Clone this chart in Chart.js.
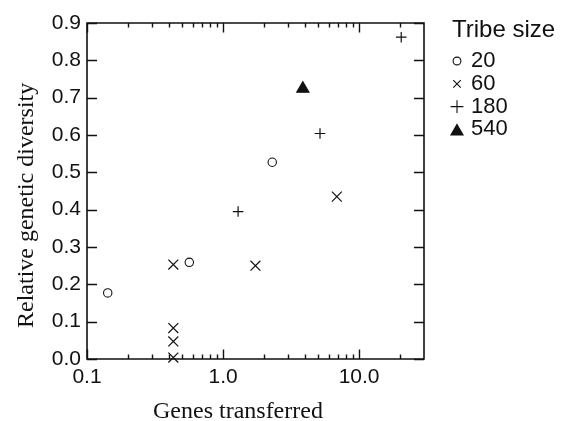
<!DOCTYPE html>
<html>
<head>
<meta charset="utf-8">
<script src="https://cdn.jsdelivr.net/npm/chart.js@4/dist/chart.umd.min.js"></script>
<style>
  html, body { margin: 0; padding: 0; background: #fff; }
  #wrap { width: 565px; height: 421px; }
</style>
</head>
<body>
<div id="wrap"><canvas id="c" width="565" height="421"></canvas></div>
<script>
// ---- data ----
const seriesLabels = ['20', '60', '180', '540'];
const tribe20 = [
  { x: 0.142, y: 0.177 },
  { x: 0.565, y: 0.259 },
  { x: 2.30, y: 0.527 }
];
const tribe60 = [
  { x: 0.431, y: 0.253 },
  { x: 0.431, y: 0.083 },
  { x: 0.431, y: 0.047 },
  { x: 0.431, y: 0.004 },
  { x: 1.73, y: 0.250 },
  { x: 6.86, y: 0.435 }
];
const tribe180 = [
  { x: 1.29, y: 0.395 },
  { x: 5.16, y: 0.604 },
  { x: 20.4, y: 0.862 }
];
const tribe540 = [
  { x: 3.86, y: 0.724 }
];
const xTickLabels = [0.1, 1, 10];
const xMinorTicks = [0.2, 0.3, 0.4, 0.5, 0.6, 0.7, 0.8, 0.9, 2, 3, 4, 5, 6, 7, 8, 9, 20];
const yTickValues = [0, 0.1, 0.2, 0.3, 0.4, 0.5, 0.6, 0.7, 0.8, 0.9];
const legendTitle = 'Tribe size';
const xTitle = 'Genes transferred';
const yTitle = 'Relative genetic diversity';

const INK = '#111';
const SANS = '"Liberation Sans", Arial, Helvetica, sans-serif';
const SERIF = '"Liberation Serif", "Times New Roman", serif';

const pointStyles = ['circle', 'crossRot', 'cross', 'triangle'];
const chartRadii = [4.2, 7, 5.3, 7];
const legendRadii = [3.9, 5.3, 6.4, 7];

const datasets = [tribe20, tribe60, tribe180, tribe540].map((d, i) => ({
  label: seriesLabels[i],
  data: d,
  pointStyle: pointStyles[i],
  pointRadius: chartRadii[i],
  pointHoverRadius: chartRadii[i],
  borderColor: INK,
  backgroundColor: i === 0 ? '#fff' : INK,
  borderWidth: i === 0 ? 1.1 : 1.2,
  clip: false
}));

const framePlugin = {
  id: 'frameTicks',
  afterDatasetsDraw(chart) {
    const { ctx, chartArea: a, scales } = chart;
    const xs = scales.x, ys = scales.y;
    ctx.save();
    ctx.strokeStyle = INK;
    ctx.lineWidth = 1.6;
    ctx.beginPath();
    ctx.rect(a.left, a.top, a.right - a.left, a.bottom - a.top);
    ctx.stroke();
    ctx.lineWidth = 1.4;
    ctx.beginPath();
    const drawX = (v, len) => {
      const px = Math.round(xs.getPixelForValue(v)) + 0.5;
      ctx.moveTo(px, a.bottom); ctx.lineTo(px, a.bottom - len);
      ctx.moveTo(px, a.top); ctx.lineTo(px, a.top + len);
    };
    xMinorTicks.forEach(v => drawX(v, 4.5));
    xTickLabels.forEach(v => drawX(v, 9.5));
    yTickValues.forEach(v => {
      const py = Math.round(ys.getPixelForValue(v)) + 0.5;
      ctx.moveTo(a.left, py); ctx.lineTo(a.left + 10, py);
      ctx.moveTo(a.right, py); ctx.lineTo(a.right - 10, py);
    });
    ctx.stroke();
    ctx.restore();
  },
  afterDraw(chart) {
    const { ctx } = chart;
    ctx.save();
    // axis titles
    ctx.fillStyle = INK;
    ctx.font = '24px ' + SERIF;
    ctx.textAlign = 'left';
    ctx.textBaseline = 'alphabetic';
    ctx.fillText(xTitle, 153, 418);
    ctx.save();
    ctx.translate(33, 328);
    ctx.rotate(-Math.PI / 2);
    ctx.fillText(yTitle, 0, 0);
    ctx.restore();
    // legend
    ctx.font = '24px ' + SANS;
    ctx.fillText(legendTitle, 452, 37);
    ctx.font = '22px ' + SANS;
    ctx.textBaseline = 'middle';
    chart.data.datasets.forEach((ds, i) => {
      const y = 61 + i * 22.8;
      ctx.strokeStyle = INK;
      ctx.fillStyle = ds.backgroundColor;
      ctx.lineWidth = 1.1;
      Chart.helpers.drawPoint(ctx, { pointStyle: ds.pointStyle, radius: legendRadii[i], rotation: 0, borderWidth: 1.1 }, 457, i === 3 ? y + 2 : y);
      ctx.fillStyle = INK;
      ctx.fillText(ds.label, 471, y);
    });
    ctx.restore();
  }
};

new Chart(document.getElementById('c'), {
  type: 'scatter',
  data: { datasets },
  options: {
    responsive: false,
    animation: false,
    events: [],
    layout: { padding: { left: 0, right: 141, top: 23, bottom: 0 } },
    plugins: { legend: { display: false }, tooltip: { enabled: false } },
    scales: {
      x: {
        type: 'logarithmic',
        min: 0.1,
        max: 30,
        grid: { display: false, drawTicks: false },
        border: { display: false },
        afterBuildTicks(scale) { scale.ticks = xTickLabels.map(v => ({ value: v })); },
        afterFit(scale) { scale.height = 62; },
        ticks: {
          padding: 8,
          color: INK,
          font: { family: SANS, size: 21, lineHeight: 1 },
          maxRotation: 0,
          autoSkip: false,
          callback: v => Number(v).toFixed(1)
        },
        title: { display: false }
      },
      y: {
        type: 'linear',
        min: 0,
        max: 0.9,
        grid: { display: false, drawTicks: false },
        border: { display: false },
        afterBuildTicks(scale) { scale.ticks = yTickValues.map(v => ({ value: v })); },
        afterFit(scale) { scale.width = 87; },
        ticks: {
          padding: 6,
          color: INK,
          font: { family: SANS, size: 21, lineHeight: 1 },
          callback: v => Number(v).toFixed(1)
        },
        title: { display: false }
      }
    }
  },
  plugins: [framePlugin]
});
</script>
</body>
</html>
